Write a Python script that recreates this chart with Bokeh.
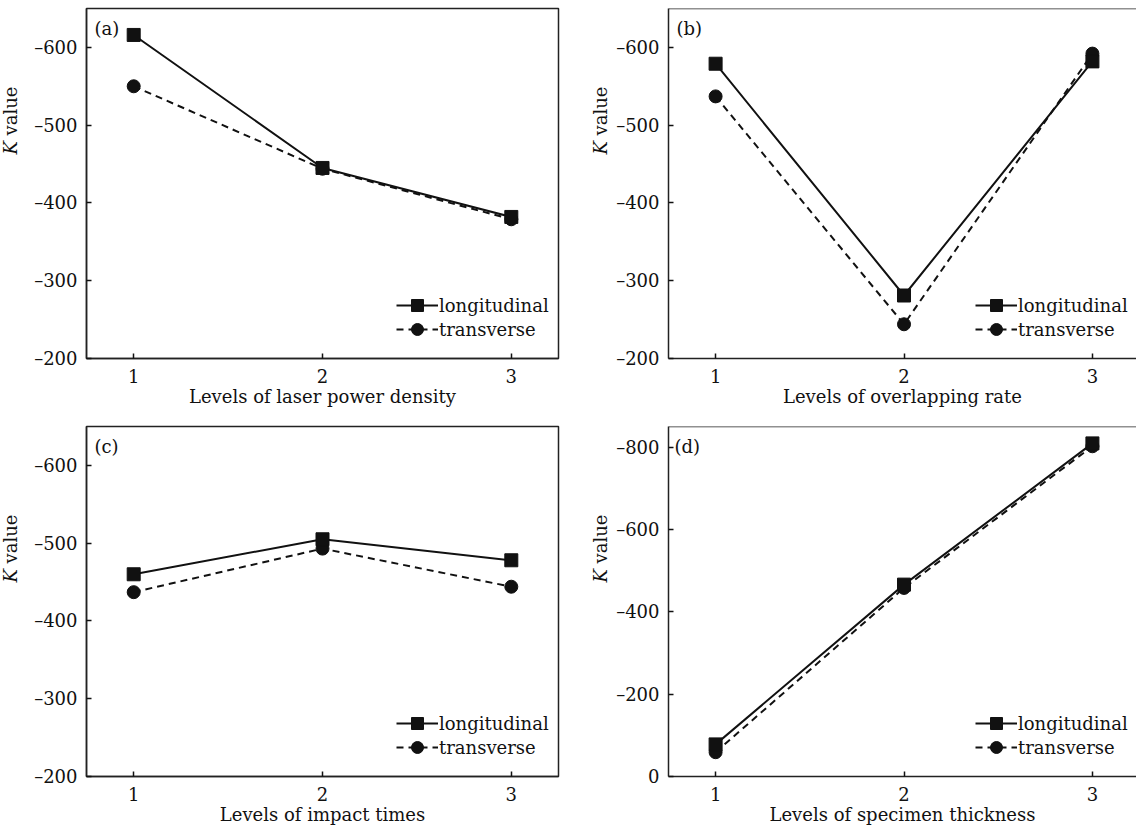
import math
from bokeh.plotting import figure
from bokeh.layouts import row, column
from bokeh.models import Range1d, FixedTicker, Legend, LegendItem, Label, Span, Plot
from bokeh.embed import file_html
from bokeh.resources import INLINE

# ---------------- data ----------------
levels = [1, 2, 3]
series_names = ["longitudinal", "transverse"]
panel_tags = ["(a)", "(b)", "(c)", "(d)"]
x_titles = [
    "Levels of laser power density",
    "Levels of overlapping rate",
    "Levels of impact times",
    "Levels of specimen thickness",
]
y_title_italic = "K"
y_title_rest = "value"
long_a = [-616, -445, -382]
trans_a = [-550, -444, -379]
long_b = [-579, -281, -582]
trans_b = [-537, -244, -592]
long_c = [-460, -505, -478]
trans_c = [-437, -493, -444]
long_d = [-78, -466, -809]
trans_d = [-59, -458, -802]

yticks_abc = [-600, -500, -400, -300, -200]
ytick_labels_abc = ["\u2013600", "\u2013500", "\u2013400", "\u2013300", "\u2013200"]
yticks_d = [-800, -600, -400, -200, 0]
ytick_labels_d = ["\u2013800", "\u2013600", "\u2013400", "\u2013200", "0"]

FONT = "DejaVu Serif"
FS = "18px"
INK = "#111111"

ROW_H = [420, 408]
ROW_TOP = [8, 6]
ROW_BOTTOM = [62, 52]
LAB_W = [30, 25]      # width of the y-title strip, left / right column
LAB_X = [10, 12]      # centre of the y-title inside its strip


def make_panel(i, long_v, trans_v, yrange, yticks, ylabels, right_col, r):
    width = 523 if right_col else 558
    height = ROW_H[r]
    mb_top, mb_bottom = ROW_TOP[r], ROW_BOTTOM[r]
    xend = 3.234 if right_col else 3.25
    p = figure(
        width=width, height=height,
        x_range=Range1d(0.75, xend), y_range=Range1d(*yrange),
        output_backend="svg", toolbar_location=None,
        min_border_left=55 if right_col else 56, min_border_right=0 if right_col else 30,
        min_border_top=mb_top, min_border_bottom=mb_bottom,
        background_fill_color="white", border_fill_color="white",
    )
    frame_h = height - mb_top - mb_bottom
    p.xgrid.visible = False
    p.ygrid.visible = False
    p.xaxis.ticker = FixedTicker(ticks=levels)
    p.yaxis.ticker = FixedTicker(ticks=yticks)
    p.yaxis.major_label_overrides = {t: s for t, s in zip(yticks, ylabels)}
    for ax in p.axis:
        ax.minor_tick_line_color = None
        ax.major_tick_in = 5
        ax.major_tick_out = 0
        ax.major_tick_line_color = INK
        ax.major_tick_line_width = 1.5
        ax.axis_line_color = "#222222"
        ax.axis_line_width = 1.5
        ax.major_label_text_font = FONT
        ax.major_label_text_font_size = FS
        ax.major_label_text_color = INK
    p.xaxis.major_label_standoff = 10
    p.yaxis.major_label_standoff = 9
    p.xaxis.axis_label = x_titles[i]
    p.xaxis.axis_label_standoff = 0
    p.xaxis.axis_label_text_font = FONT
    p.xaxis.axis_label_text_font_size = FS
    p.xaxis.axis_label_text_font_style = "normal"
    p.xaxis.axis_label_text_color = INK

    if right_col:
        p.outline_line_color = None
        p.add_layout(Span(location=yrange[1], dimension="width",
                          line_color="#222222", line_width=1.5))
    else:
        p.outline_line_color = "#222222"
        p.outline_line_width = 1.5
        p.outline_line_alpha = 1.0

    lt = p.line(levels, trans_v, line_color=INK, line_width=2, line_dash="7 5")
    st = p.scatter(levels, trans_v, marker="circle", size=13, color=INK)
    ll = p.line(levels, long_v, line_color=INK, line_width=2)
    sl = p.scatter(levels, long_v, marker="square", size=13, color=INK)

    lx = 307 if right_col else 310
    for name, rends, ybot in ((series_names[0], [ll, sl], 38), (series_names[1], [lt, st], 14)):
        legend = Legend(
            items=[LegendItem(label=name, renderers=rends)],
            location=(lx, ybot), glyph_width=42, glyph_height=30,
            label_height=24, spacing=0, padding=0, margin=0,
            border_line_color=None, background_fill_alpha=0,
            label_text_font=FONT, label_text_font_size=FS,
            label_text_color=INK, label_standoff=1,
        )
        p.add_layout(legend)

    # panel tag
    p.add_layout(Label(x=8 if i != 3 else 6, y=frame_h - 20, x_units="screen", y_units="screen",
                       text=panel_tags[i], text_font=FONT, text_font_size=FS,
                       text_color=INK, text_baseline="middle", text_align="left"))
    return p


def make_ylabel(r, c):
    height = ROW_H[r]
    frame_center_from_bottom = ROW_BOTTOM[r] + (height - ROW_TOP[r] - ROW_BOTTOM[r]) / 2
    y0 = frame_center_from_bottom - 33
    q = Plot(width=LAB_W[c], height=height, min_border=0, toolbar_location=None,
             outline_line_color=None, output_backend="svg",
             background_fill_color="white", border_fill_color="white")
    q.add_layout(Label(x=LAB_X[c], y=y0, x_units="screen", y_units="screen",
                       text=y_title_italic, angle=math.pi / 2, text_font=FONT,
                       text_font_style="italic", text_font_size=FS, text_color=INK,
                       text_align="left", text_baseline="middle"))
    q.add_layout(Label(x=LAB_X[c], y=y0 + 19, x_units="screen", y_units="screen",
                       text=y_title_rest, angle=math.pi / 2, text_font=FONT,
                       text_font_size=FS, text_color=INK,
                       text_align="left", text_baseline="middle"))
    return q


pa = make_panel(0, long_a, trans_a, (-200, -650), yticks_abc, ytick_labels_abc, False, 0)
pb = make_panel(1, long_b, trans_b, (-200, -650), yticks_abc, ytick_labels_abc, True, 0)
pc = make_panel(2, long_c, trans_c, (-200, -650), yticks_abc, ytick_labels_abc, False, 1)
pd = make_panel(3, long_d, trans_d, (0, -850), yticks_d, ytick_labels_d, True, 1)

layout = column(
    row(make_ylabel(0, 0), pa, make_ylabel(0, 1), pb),
    row(make_ylabel(1, 0), pc, make_ylabel(1, 1), pd),
)

open("out.html", "w").write(file_html(layout, INLINE))
